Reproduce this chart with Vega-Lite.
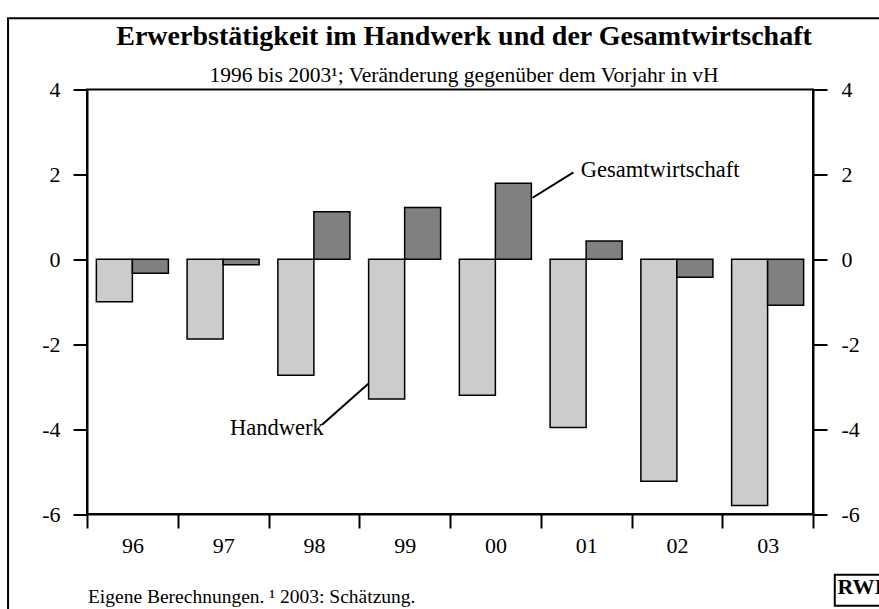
{
  "$schema": "https://vega.github.io/schema/vega-lite/v6.json",
  "autosize": {"type": "none"},
  "padding": {"left": 87, "top": 89.5, "right": 66, "bottom": 95},
  "width": 726,
  "height": 424.5,
  "background": "white",
  "config": {
    "view": {"stroke": "black", "strokeWidth": 2},
    "font": "Liberation Serif"
  },
  "title": {
    "text": "Erwerbstätigkeit im Handwerk und der Gesamtwirtschaft",
    "subtitle": "1996 bis 2003¹; Veränderung gegenüber dem Vorjahr in vH",
    "anchor": "middle",
    "frame": "group",
    "dx": 14,
    "offset": -69,
    "font": "Liberation Serif",
    "fontSize": 28,
    "fontWeight": "bold",
    "color": "black",
    "subtitleFont": "Liberation Serif",
    "subtitleFontSize": 21.5,
    "subtitleColor": "black",
    "subtitlePadding": 14
  },
  "layer": [
    {
      "data": {
        "values": [
          {"year": "96", "series": "Handwerk", "value": -1.0},
          {"year": "96", "series": "Gesamtwirtschaft", "value": -0.33},
          {"year": "97", "series": "Handwerk", "value": -1.88},
          {"year": "97", "series": "Gesamtwirtschaft", "value": -0.13},
          {"year": "98", "series": "Handwerk", "value": -2.73},
          {"year": "98", "series": "Gesamtwirtschaft", "value": 1.12},
          {"year": "99", "series": "Handwerk", "value": -3.29},
          {"year": "99", "series": "Gesamtwirtschaft", "value": 1.22},
          {"year": "00", "series": "Handwerk", "value": -3.2},
          {"year": "00", "series": "Gesamtwirtschaft", "value": 1.79},
          {"year": "01", "series": "Handwerk", "value": -3.96},
          {"year": "01", "series": "Gesamtwirtschaft", "value": 0.43},
          {"year": "02", "series": "Handwerk", "value": -5.23},
          {"year": "02", "series": "Gesamtwirtschaft", "value": -0.42},
          {"year": "03", "series": "Handwerk", "value": -5.8},
          {"year": "03", "series": "Gesamtwirtschaft", "value": -1.08}
        ]
      },
      "mark": {"type": "bar", "stroke": "black", "strokeWidth": 1.5},
      "encoding": {
        "x": {
          "field": "year", "type": "ordinal",
          "sort": ["96", "97", "98", "99", "00", "01", "02", "03"],
          "scale": {"paddingInner": 0, "paddingOuter": 0},
          "axis": {
            "title": null, "tickBand": "extent", "labelAngle": 0,
            "domainColor": "black", "domainWidth": 2,
            "tickColor": "black", "tickWidth": 2, "tickSize": 14,
            "labelFont": "Liberation Serif", "labelFontSize": 22, "labelColor": "black",
            "labelPadding": 7
          }
        },
        "xOffset": {
          "field": "series", "type": "nominal",
          "sort": ["Handwerk", "Gesamtwirtschaft"],
          "scale": {"paddingInner": 0, "paddingOuter": 0.26}
        },
        "y": {
          "field": "value", "type": "quantitative",
          "scale": {"domain": [-6, 4], "nice": false, "zero": false},
          "axis": {
            "title": null, "values": [-6, -4, -2, 0, 2, 4], "grid": false,
            "labelExpr": "replace(datum.label, '−', '-')",
            "domainColor": "black", "domainWidth": 2,
            "tickColor": "black", "tickWidth": 2, "tickSize": 14,
            "labelFont": "Liberation Serif", "labelFontSize": 22, "labelColor": "black",
            "labelPadding": 13
          }
        },
        "color": {
          "field": "series", "type": "nominal",
          "scale": {"domain": ["Handwerk", "Gesamtwirtschaft"], "range": ["#cccccc", "#808080"]},
          "legend": null
        }
      }
    },
    {
      "mark": {"type": "rule", "color": "black", "strokeWidth": 2},
      "encoding": {
        "y": {
          "datum": 0, "type": "quantitative",
          "scale": {"domain": [-6, 4], "nice": false, "zero": false},
          "axis": {
            "orient": "right", "title": null, "values": [-6, -4, -2, 0, 2, 4], "grid": false,
            "labelExpr": "replace(datum.label, '−', '-')",
            "domainColor": "black", "domainWidth": 2,
            "tickColor": "black", "tickWidth": 2, "tickSize": 14,
            "labelFont": "Liberation Serif", "labelFontSize": 22, "labelColor": "black",
            "labelPadding": 14
          }
        }
      }
    },
    {
      "data": {
        "values": [
          {"x": 2.59, "y": -3.9, "x2": 3.1, "y2": -2.93},
          {"x": 4.91, "y": 1.45, "x2": 5.36, "y2": 2.05}
        ]
      },
      "mark": {"type": "rule", "color": "black", "strokeWidth": 2},
      "encoding": {
        "x": {"field": "x", "type": "quantitative", "scale": {"domain": [0, 8], "nice": false, "zero": false}, "axis": null},
        "x2": {"field": "x2"},
        "y": {"field": "y", "type": "quantitative", "scale": {"domain": [-6, 4], "nice": false, "zero": false}, "axis": null},
        "y2": {"field": "y2"}
      }
    },
    {
      "data": {
        "values": [
          {"label": "Handwerk", "x": 1.576, "y": -3.97},
          {"label": "Gesamtwirtschaft", "x": 5.44, "y": 2.1}
        ]
      },
      "mark": {"type": "text", "align": "left", "baseline": "middle", "font": "Liberation Serif", "fontSize": 22.5, "color": "black"},
      "encoding": {
        "x": {"field": "x", "type": "quantitative", "scale": {"domain": [0, 8], "nice": false, "zero": false}, "axis": null},
        "y": {"field": "y", "type": "quantitative", "scale": {"domain": [-6, 4], "nice": false, "zero": false}, "axis": null},
        "text": {"field": "label"}
      }
    },
    {
      "data": {
        "values": [
          {"label": "Eigene Berechnungen. ¹ 2003: Schätzung.", "x": 0.01, "y": -7.95}
        ]
      },
      "mark": {"type": "text", "align": "left", "baseline": "middle", "font": "Liberation Serif", "fontSize": 19.5, "color": "black"},
      "encoding": {
        "x": {"field": "x", "type": "quantitative", "scale": {"domain": [0, 8], "nice": false, "zero": false}, "axis": null},
        "y": {"field": "y", "type": "quantitative", "scale": {"domain": [-6, 4], "nice": false, "zero": false}, "axis": null},
        "text": {"field": "label"}
      }
    },
    {
      "data": {
        "values": [
          {"label": "RWI", "x": 8.27, "y": -7.72}
        ]
      },
      "mark": {"type": "text", "align": "left", "baseline": "middle", "font": "Liberation Serif", "fontSize": 22, "fontWeight": "bold", "color": "black"},
      "encoding": {
        "x": {"field": "x", "type": "quantitative", "scale": {"domain": [0, 8], "nice": false, "zero": false}, "axis": null},
        "y": {"field": "y", "type": "quantitative", "scale": {"domain": [-6, 4], "nice": false, "zero": false}, "axis": null},
        "text": {"field": "label"}
      }
    },
    {
      "data": {
        "values": [
          {"x": -0.87, "x2": 8.96, "y": 5.68, "y2": -8.72},
          {"x": 8.24, "x2": 8.9, "y": -7.43, "y2": -8.16}
        ]
      },
      "mark": {"type": "rect", "fill": null, "fillOpacity": 0, "stroke": "black", "strokeWidth": 2},
      "encoding": {
        "x": {"field": "x", "type": "quantitative", "scale": {"domain": [0, 8], "nice": false, "zero": false}, "axis": null},
        "x2": {"field": "x2"},
        "y": {"field": "y", "type": "quantitative", "scale": {"domain": [-6, 4], "nice": false, "zero": false}, "axis": null},
        "y2": {"field": "y2"}
      }
    }
  ],
  "resolve": {"scale": {"x": "independent"}, "axis": {"y": "independent"}}
}
